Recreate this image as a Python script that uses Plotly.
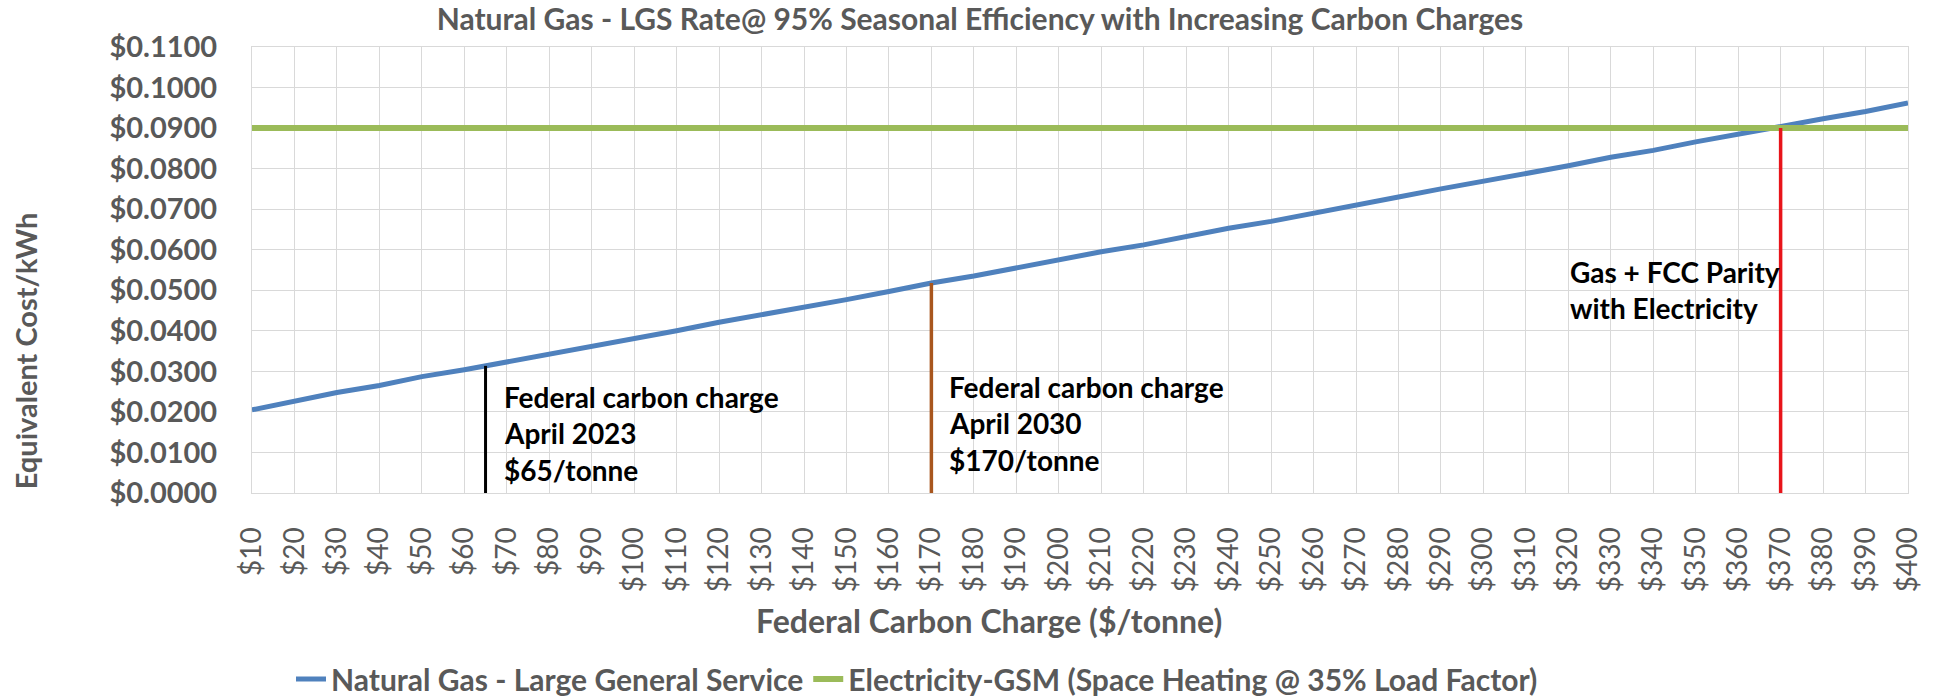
import numpy as np
import plotly.graph_objects as go

# ---- data ----
carbon_charge = list(range(10, 401, 10))  # $/tonne
gas_cost = [0.0205, 0.0228, 0.0248, 0.0265, 0.0287, 0.0304, 0.0323, 0.0341, 0.0362, 0.0382,
            0.0400, 0.0421, 0.0439, 0.0459, 0.0477, 0.0497, 0.0518, 0.0535, 0.0556, 0.0574,
            0.0595, 0.0612, 0.0633, 0.0653, 0.0670, 0.0691, 0.0709, 0.0730, 0.0750, 0.0768,
            0.0789, 0.0807, 0.0828, 0.0845, 0.0866, 0.0886, 0.0903, 0.0923, 0.0941, 0.0962]
electricity_cost = [0.09] * len(carbon_charge)
x_tick_labels = [f"${v}" for v in carbon_charge]
y_tick_values = [0.0, 0.01, 0.02, 0.03, 0.04, 0.05, 0.06, 0.07, 0.08, 0.09, 0.10, 0.11]
y_tick_labels = [f"${v:.4f}" for v in y_tick_values]

marker_2023 = 65
marker_2030 = 170
parity_charge = 370

gas_name = "Natural Gas - Large General Service"
elec_name = "Electricity-GSM (Space Heating @ 35% Load Factor)"
title = "Natural Gas - LGS Rate@ 95% Seasonal Efficiency with Increasing Carbon Charges"

FONT = "Lato, 'Open Sans', sans-serif"
GRAY = "#595959"
GRID = "#D9D9D9"

fig = go.Figure()
fig.add_trace(go.Scatter(x=carbon_charge, y=gas_cost, mode="lines", name=gas_name,
                         line=dict(color="#4F81BD", width=5)))
fig.add_trace(go.Scatter(x=carbon_charge, y=electricity_cost, mode="lines", name=elec_name,
                         line=dict(color="#9BBB59", width=6)))

# vertical marker lines from 0 up to the gas line / parity point
top_2023 = float(np.interp(marker_2023, carbon_charge, gas_cost))
top_2030 = float(np.interp(marker_2030, carbon_charge, gas_cost))
top_parity = electricity_cost[carbon_charge.index(parity_charge)]
for xv, yt, col, w in [(marker_2023, top_2023, "#000000", 3),
                        (marker_2030, top_2030, "#A8561E", 3.5),
                        (parity_charge, top_parity, "#E8141A", 3.5)]:
    fig.add_trace(go.Scatter(x=[xv, xv], y=[0, yt], mode="lines", showlegend=False,
                             line=dict(color=col, width=w), hoverinfo="skip"))

ann_font = dict(family=FONT, size=28, color="#000000", weight="bold")
annotations = []
for xv, lines, ys in [
    (marker_2023, ["Federal carbon charge", "April 2023", "$65/tonne"], [0.02367, 0.01480, 0.00567]),
    (marker_2030, ["Federal carbon charge", "April 2030", "$170/tonne"], [0.02614, 0.01726, 0.00814]),
]:
    for t, yv in zip(lines, ys):
        annotations.append(dict(x=xv, y=yv, xref="x", yref="y", text=t, showarrow=False,
                                xanchor="left", yanchor="middle", xshift=16, font=ann_font))
for t, yv in zip(["Gas + FCC Parity", "with Electricity"], [0.05450, 0.04560]):
    annotations.append(dict(x=parity_charge, y=yv, xref="x", yref="y", text=t, showarrow=False,
                            xanchor="left", yanchor="middle", xshift=-213, font=ann_font))

# axis titles
annotations.append(dict(x=(989 - 252) / 1656, y=(493 - 620) / 446, xref="paper", yref="paper",
                        text="Federal Carbon Charge ($/tonne)", showarrow=False,
                        xanchor="center", yanchor="middle",
                        font=dict(family=FONT, size=32, color=GRAY, weight="bold")))
annotations.append(dict(x=-0.137, y=0.318, xref="paper", yref="paper",
                        text="Equivalent Cost/kWh", showarrow=False, textangle=-90,
                        xanchor="center", yanchor="middle",
                        font=dict(family=FONT, size=29, color=GRAY, weight="bold")))

fig.update_layout(
    width=1944, height=697,
    margin=dict(l=252, r=36, t=47, b=204),
    paper_bgcolor="white", plot_bgcolor="white",
    title=dict(text=title, x=980 / 1944, xref="container", xanchor="center",
               y=1 - 19 / 697, yref="container", yanchor="middle",
               font=dict(family=FONT, size=30, color=GRAY, weight="bold")),
    showlegend=True,
    legend=dict(orientation="h", x=917 / 1944, xref="container", xanchor="center",
                y=1 - 679 / 697, yref="container", yanchor="middle",
                font=dict(family=FONT, size=30, color=GRAY, weight="bold"),
                itemwidth=30, tracegroupgap=0),
    annotations=annotations,
)
fig.update_xaxes(range=[10, 400], tickvals=carbon_charge, ticktext=x_tick_labels,
                 tickangle=-90, showgrid=True, gridcolor=GRID, gridwidth=1,
                 showline=True, mirror=True, linecolor=GRID, linewidth=1,
                 zeroline=False, ticks="", ticklabelstandoff=22,
                 tickfont=dict(family=FONT, size=28, color=GRAY))
fig.update_yaxes(range=[0, 0.11], tickvals=y_tick_values, ticktext=y_tick_labels,
                 showgrid=True, gridcolor=GRID, gridwidth=1,
                 showline=True, mirror=True, linecolor=GRID, linewidth=1,
                 zeroline=False, ticks="", ticklabelstandoff=28,
                 tickfont=dict(family=FONT, size=29, color=GRAY, weight="bold"))

fig.write_html("out.html")
